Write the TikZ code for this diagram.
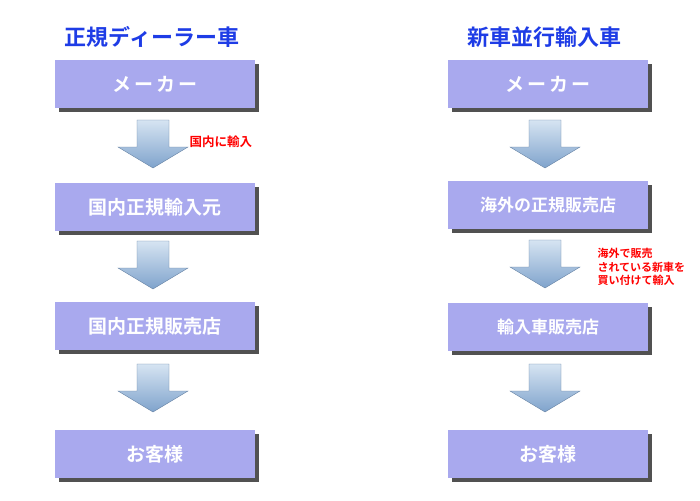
\documentclass[tikz,border=0pt]{standalone}
\usepackage{fontspec}
\setmainfont{Noto Sans CJK JP}[BoldFont={* Bold}]
\usetikzlibrary{shadows}
\definecolor{boxc}{HTML}{A9A9EE}
\definecolor{titc}{HTML}{1E3CE6}
\definecolor{arT}{HTML}{D6E4F2}
\definecolor{arB}{HTML}{7FA3CC}
\begin{document}
\begin{tikzpicture}[x=1pt,y=-1pt,
 flowbox/.style={fill=boxc,minimum width=200pt,minimum height=48pt,inner sep=0pt,text=white,font=\bfseries\fontsize{19}{22}\selectfont,drop shadow={shadow xshift=4pt,shadow yshift=-4pt,opacity=0.8,fill=black!85}},
 ttl/.style={text=titc,font=\bfseries\fontsize{22}{24}\selectfont},
 lbl/.style={text=red,font=\bfseries\fontsize{12.5}{14}\selectfont,align=left,anchor=west}]
\useasboundingbox (0,0) rectangle (700,500);
\fill[white] (0,0) rectangle (700,500);
\newcommand{\myDnArrow}[1]{%
 \shade[top color=arT,bottom color=arB,draw=arB!80!black,line width=0.4pt]
 ([xshift=-16pt]#1) -- ([xshift=16pt]#1) -- ([xshift=16pt,yshift=-27pt]#1) -- ([xshift=35pt,yshift=-27pt]#1) -- ([yshift=-48pt]#1) -- ([xshift=-35pt,yshift=-27pt]#1) -- ([xshift=-16pt,yshift=-27pt]#1) -- cycle;}
\node[ttl] (t1) at (152,37) {正規ディーラー車};
\node[ttl] (t2) at (544,37) {新車並行輸入車};
\node[flowbox] (a1) at (155,84) {メ\,ー\,カ\,ー};
\node[flowbox] (a2) at (155,207) {国内正規輸入元};
\node[flowbox] (a3) at (155,326) {国内正規販売店};
\node[flowbox] (a4) at (155,454) {お客様};
\node[flowbox] (b1) at (548,84) {メ\,ー\,カ\,ー};
\node[flowbox,font=\bfseries\fontsize{17}{20}\selectfont] (b2) at (548,205) {海外の正規販売店};
\node[flowbox,font=\bfseries\fontsize{17}{20}\selectfont] (b3) at (548,327) {輸入車販売店};
\node[flowbox] (b4) at (548,454) {お客様};
\coordinate (p1) at (153,120); \myDnArrow{p1}
\coordinate (p2) at (153,241); \myDnArrow{p2}
\coordinate (p3) at (153,364); \myDnArrow{p3}
\coordinate (q1) at (545,120); \myDnArrow{q1}
\coordinate (q2) at (545,240); \myDnArrow{q2}
\coordinate (q3) at (545,364); \myDnArrow{q3}
\node[lbl] (l1) at (186,142) {国内に輸入};
\node[lbl,font=\bfseries\fontsize{11}{13.5}\selectfont] (l2) at (594,267) {海外で販売\\されている新車を\\買い付けて輸入};
\end{tikzpicture}
\end{document}
